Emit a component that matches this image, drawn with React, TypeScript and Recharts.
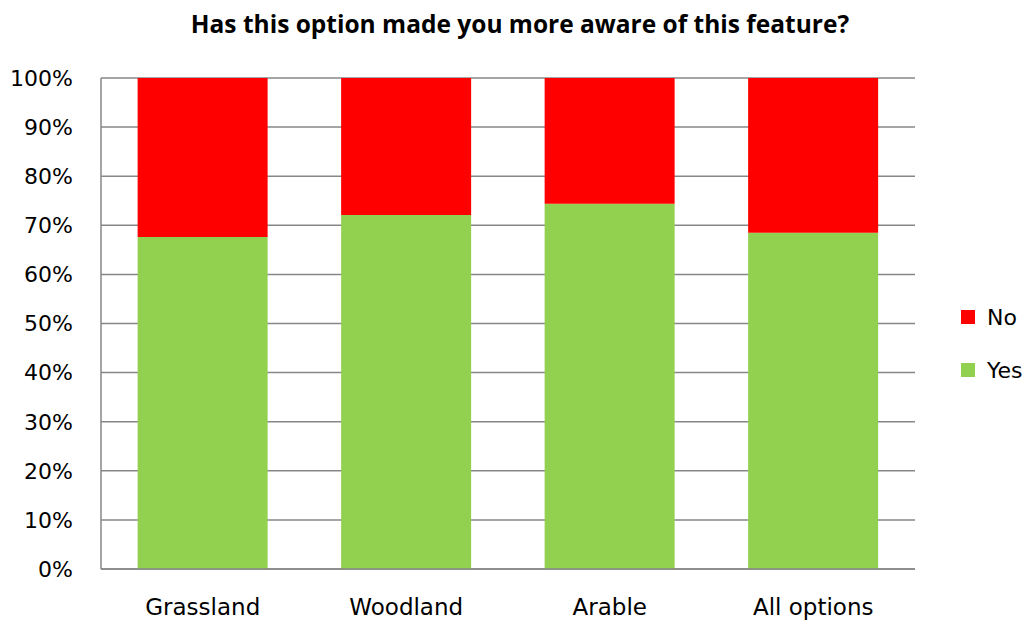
import React from "react";
import { BarChart, Bar, XAxis, YAxis, CartesianGrid } from "recharts";

const categories = ["Grassland", "Woodland", "Arable", "All options"];
const yesValues = [67.6, 72.1, 74.4, 68.5];
const noValues = [32.4, 27.9, 25.6, 31.5];
const yTicks = [0, 10, 20, 30, 40, 50, 60, 70, 80, 90, 100];
const legendItems = [
  { label: "No", color: "#FF0000" },
  { label: "Yes", color: "#92D050" },
];

const data = categories.map((c, i) => ({ name: c, Yes: yesValues[i], No: noValues[i] }));

const FONT = "'DejaVu Sans', Verdana, sans-serif";

export default function App() {
  return (
    <div style={{ position: "absolute", left: 0, top: 0, width: 1031, height: 622, background: "#fff" }}>
      <div
        style={{
          position: "absolute",
          top: 6,
          left: 0,
          width: 1040,
          textAlign: "center",
          fontFamily: "'Open Sans', sans-serif",
          fontWeight: 700,
          fontSize: 24.5,
          lineHeight: "36px",
          color: "#000",
        }}
      >
        Has this option made you more aware of this feature?
      </div>
      <BarChart
        width={1031}
        height={622}
        data={data}
        margin={{ top: 78, right: 116, bottom: 0, left: 0 }}
        barCategoryGap="18%"
      >
        <CartesianGrid vertical={false} stroke="#878787" strokeWidth={1.5} />
        <XAxis
          dataKey="name"
          height={53}
          tickLine={false}
          tickSize={28}
          tickMargin={2}
          axisLine={{ stroke: "#878787", strokeWidth: 1.5 }}
          tick={{ fill: "#000", fontSize: 23, fontFamily: FONT }}
        />
        <YAxis
          width={101}
          domain={[0, 100]}
          ticks={yTicks}
          interval={0}
          tickFormatter={(v: number) => `${v}%`}
          tickLine={false}
          tickSize={26}
          tickMargin={2}
          axisLine={{ stroke: "#878787", strokeWidth: 1.5 }}
          tick={{ fill: "#000", fontSize: 22, fontFamily: FONT }}
        />
        <Bar dataKey="Yes" stackId="a" fill="#92D050" isAnimationActive={false} />
        <Bar dataKey="No" stackId="a" fill="#FF0000" isAnimationActive={false} />
      </BarChart>
      <div style={{ position: "absolute", left: 961, top: 304, fontFamily: FONT, fontSize: 22, color: "#000" }}>
        {legendItems.map((it, i) => (
          <div key={it.label} style={{ display: "flex", alignItems: "center", height: 26, marginBottom: i === 0 ? 27 : 0 }}>
            <span style={{ display: "inline-block", width: 14, height: 14, background: it.color, marginRight: 12 }} />
            <span>{it.label}</span>
          </div>
        ))}
      </div>
    </div>
  );
}
